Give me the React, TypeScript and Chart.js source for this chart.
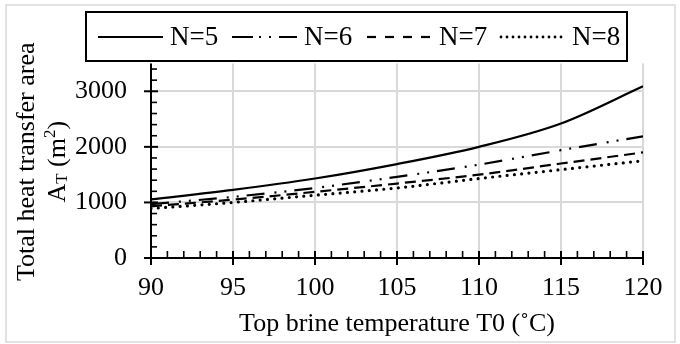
import React, { useEffect, useRef } from "react";
import { Chart, registerables } from "chart.js";
Chart.register(...registerables);

// ---- data ----
const temps = [90, 95, 100, 105, 110, 115, 120];
const areaN5 = [1055, 1225, 1430, 1690, 2000, 2420, 3090];
const areaN6 = [970, 1100, 1260, 1460, 1680, 1940, 2190];
const areaN7 = [930, 1050, 1190, 1340, 1500, 1700, 1900];
const areaN8 = [890, 1000, 1130, 1260, 1430, 1590, 1750];
const seriesNames = ["N=5", "N=6", "N=7", "N=8"];
const xTickValues = [90, 95, 100, 105, 110, 115, 120];
const yTickValues = [0, 1000, 2000, 3000];
const xTitle = "Top brine temperature T0 (˚C)";
const yTitleLine1 = "Total heat transfer area";

const FONT = "'Liberation Serif', 'Times New Roman', serif";
const FS = 26;
const LFS = 27;

const lineDashes = [[], [18, 10, 2, 8, 2, 8], [11, 6], [0, 7.3]];
const legendDashes = [[], [21, 6, 2, 8, 2, 8], [9, 9], [0, 6]];

const decor = {
  id: "decor",
  beforeDraw(chart: any) {
    const ctx = chart.ctx;
    ctx.save();
    ctx.fillStyle = "#fff";
    ctx.fillRect(0, 0, chart.width, chart.height);
    ctx.strokeStyle = "#d9d9d9";
    ctx.lineWidth = 1.5;
    ctx.strokeRect(6, 5, 669, 337);
    ctx.restore();
  },
  afterDatasetsDraw(chart: any) {
    const ctx = chart.ctx;
    const { left, right, top, bottom } = chart.chartArea;
    const xs = chart.scales.x;
    const ys = chart.scales.y;
    ctx.save();
    ctx.strokeStyle = "#000";
    ctx.setLineDash([]);
    const seg = (x1: number, y1: number, x2: number, y2: number) => {
      ctx.beginPath();
      ctx.moveTo(x1, y1);
      ctx.lineTo(x2, y2);
      ctx.stroke();
    };
    // axis lines
    ctx.lineWidth = 2;
    seg(left, top, left, bottom + 1);
    seg(left - 1, bottom, right + 1, bottom);
    // y ticks
    yTickValues.forEach((v) => {
      const y = ys.getPixelForValue(v);
      seg(left - 7, y, left + 7, y);
    });
    ctx.lineWidth = 1.6;
    for (let v = 200; v <= ys.max; v += 200) {
      if (v % 1000 === 0) continue;
      const y = ys.getPixelForValue(v);
      seg(left, y, left + 6, y);
    }
    // x ticks
    ctx.lineWidth = 2;
    xTickValues.forEach((v) => {
      const x = xs.getPixelForValue(v);
      seg(x, bottom - 7, x, bottom + 7);
    });
    ctx.lineWidth = 1.6;
    for (let v = xs.min + 1; v < xs.max; v += 1) {
      if (v % 5 === 0) continue;
      const x = xs.getPixelForValue(v);
      seg(x, bottom - 7, x, bottom);
    }

    // y title
    ctx.fillStyle = "#000";
    ctx.font = `${FS}px ${FONT}`;
    ctx.textBaseline = "middle";
    ctx.textAlign = "center";
    const cyT = (top + bottom) / 2 + 1;
    ctx.save();
    ctx.translate(27, cyT);
    ctx.rotate(-Math.PI / 2);
    ctx.fillText(yTitleLine1, 0, 0);
    ctx.restore();
    ctx.save();
    ctx.translate(58, cyT);
    ctx.rotate(-Math.PI / 2);
    const small = `${Math.round(FS * 0.65)}px ${FONT}`;
    const big = `${FS}px ${FONT}`;
    const parts = [
      { t: "A", f: big, dy: 0 },
      { t: "T", f: small, dy: 5 },
      { t: " (m", f: big, dy: 0 },
      { t: "2", f: small, dy: -7 },
      { t: ")", f: big, dy: 0 },
    ];
    let total = 0;
    parts.forEach((p) => {
      ctx.font = p.f;
      total += ctx.measureText(p.t).width;
    });
    let px = -total / 2;
    ctx.textAlign = "left";
    parts.forEach((p) => {
      ctx.font = p.f;
      ctx.fillText(p.t, px, p.dy);
      px += ctx.measureText(p.t).width;
    });
    ctx.restore();

    // legend
    ctx.lineWidth = 2;
    ctx.strokeStyle = "#000";
    ctx.strokeRect(86, 12, 541, 49);
    const cy = 37;
    ctx.font = `${LFS}px ${FONT}`;
    ctx.textAlign = "left";
    ctx.textBaseline = "middle";
    const starts = [98, 232, 367, 500];
    seriesNames.forEach((name, i) => {
      const sx = starts[i];
      ctx.lineWidth = i === 3 ? 2.8 : 2.2;
      ctx.lineCap = i === 3 ? "round" : "butt";
      ctx.setLineDash(legendDashes[i]);
      seg(sx + (i === 3 ? 1 : 0), cy, sx + 65, cy);
      ctx.setLineDash([]);
      ctx.lineCap = "butt";
      ctx.fillText(name, sx + 72, cy + 1);
    });
    ctx.restore();
  },
};

export default function App() {
  const ref = useRef<HTMLCanvasElement | null>(null);
  useEffect(() => {
    if (!ref.current) return;
    const series = [areaN5, areaN6, areaN7, areaN8];
    const chart = new Chart(ref.current, {
      type: "line",
      data: {
        datasets: series.map((arr, i) => ({
          label: seriesNames[i],
          data: temps.map((t, j) => ({ x: t, y: arr[j] })),
          borderColor: "#000",
          borderWidth: i === 3 ? 3.2 : 2.2,
          borderDash: lineDashes[i],
          borderCapStyle: i === 3 ? "round" : "butt",
          pointRadius: 0,
          fill: false,
          cubicInterpolationMode: "monotone",
        })),
      },
      options: {
        animation: false,
        responsive: false,
        devicePixelRatio: 1,
        layout: { padding: { top: 63.5, right: 37, left: 0, bottom: 0 } },
        plugins: { legend: { display: false }, tooltip: { enabled: false } },
        scales: {
          x: {
            type: "linear",
            min: 90,
            max: 120,
            afterBuildTicks: (s: any) => {
              s.ticks = xTickValues.map((v) => ({ value: v }));
            },
            afterFit: (s: any) => {
              s.height = 86;
            },
            grid: { color: "#d9d9d9", lineWidth: 2, drawTicks: false },
            border: { display: false },
            ticks: {
              color: "#000",
              font: { family: FONT, size: FS },
              padding: 15,
              maxRotation: 0,
              callback: (v: any) => String(v),
            },
            title: {
              display: true,
              text: xTitle,
              color: "#000",
              font: { family: FONT, size: FS },
              padding: { top: 0, bottom: 4 },
            },
          },
          y: {
            type: "linear",
            min: 0,
            max: 3500,
            afterBuildTicks: (s: any) => {
              s.ticks = yTickValues.map((v) => ({ value: v }));
            },
            afterFit: (s: any) => {
              s.width = 151;
            },
            grid: { color: "#d9d9d9", lineWidth: 2, drawTicks: false },
            border: { display: false },
            ticks: {
              color: "#000",
              font: { family: FONT, size: FS },
              padding: 24,
              callback: (v: any) => String(v),
            },
          },
        },
      },
      plugins: [decor],
    } as any);
    return () => chart.destroy();
  }, []);
  return (
    <div style={{ position: "fixed", left: 0, top: 0, width: 680, height: 344 }}>
      <canvas ref={ref} width={680} height={344} />
    </div>
  );
}
